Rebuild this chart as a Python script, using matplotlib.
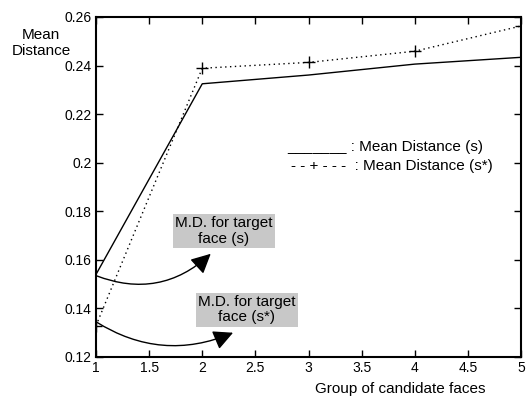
import matplotlib
matplotlib.use("Agg")
import matplotlib.pyplot as plt

plt.rcParams['font.family'] = ['Liberation Sans', 'DejaVu Sans']

groups = [1, 2, 3, 4, 5]
md_s = [0.1540, 0.2325, 0.2361, 0.2406, 0.2434]
md_s_star = [0.1329, 0.2389, 0.2413, 0.2459, 0.2563]

target_s = 0.1535
target_s_star = 0.1345

xticks = [1, 1.5, 2, 2.5, 3, 3.5, 4, 4.5, 5]
xtick_labels = ['1', '1.5', '2', '2.5', '3', '3.5', '4', '4.5', '5']
yticks = [0.12, 0.14, 0.16, 0.18, 0.20, 0.22, 0.24, 0.26]
ytick_labels = ['0.12', '0.14', '0.16', '0.18', '0.2', '0.22', '0.24', '0.26']

W, H = 529, 399
fig = plt.figure(figsize=(W / 100, H / 100), dpi=100)
ax = fig.add_axes([96 / W, (H - 357) / H, 425 / W, 340 / H])

ax.plot(groups, md_s, color='black', lw=1.0)
ax.plot(groups, md_s_star, color='black', lw=1.0, linestyle=(0, (1, 2.5)),
        marker='+', markersize=8, markeredgewidth=1.0)

ax.set_xlim(1, 5)
ax.set_ylim(0.12, 0.26)
ax.set_xticks(xticks)
ax.set_xticklabels(xtick_labels)
ax.set_yticks(yticks)
ax.set_yticklabels(ytick_labels)
ax.tick_params(direction='in', length=5, width=1, labelsize=10,
               top=True, right=True, pad=3)
for sp in ax.spines.values():
    sp.set_linewidth(1.5)

# Legend drawn as plain text lines
ax.text((287 - 96) / 425, (357 - 147) / 340, '_______ : Mean Distance (s)',
        transform=ax.transAxes, fontsize=11, va='center', ha='left')
ax.text((291 - 96) / 425, (357 - 166) / 340, '- - + - - -  : Mean Distance (s*)',
        transform=ax.transAxes, fontsize=11, va='center', ha='left')

# Labelled boxes for the target-face distances
box = dict(boxstyle='square,pad=0.15', facecolor='#c8c8c8', edgecolor='none')
ax.text(2.205, 0.1719, 'M.D. for target\nface (s)', fontsize=11,
        ha='center', va='center', bbox=box, linespacing=1.1)
ax.text(2.421, 0.1394, 'M.D. for target\nface (s*)', fontsize=11,
        ha='center', va='center', bbox=box, linespacing=1.1)

head = '-|>,head_length=0.5,head_width=0.25'
ax.annotate('', xy=(2.08, 0.1625), xytext=(1.0, target_s),
            arrowprops=dict(arrowstyle=head, color='black', lw=1.0,
                            mutation_scale=24, shrinkA=0, shrinkB=0,
                            connectionstyle='arc3,rad=0.31'))
ax.annotate('', xy=(2.29, 0.1300), xytext=(1.0, target_s_star),
            arrowprops=dict(arrowstyle=head, color='black', lw=1.0,
                            mutation_scale=24, shrinkA=0, shrinkB=0,
                            connectionstyle='arc3,rad=0.26'))

fig.text(41 / W, 1 - 43 / H, 'Mean\nDistance', fontsize=11,
         ha='center', va='center', linespacing=1.15)
fig.text(400 / W, 1 - 389 / H, 'Group of candidate faces', fontsize=11,
         ha='center', va='center')

fig.savefig('out.png', dpi=100)
